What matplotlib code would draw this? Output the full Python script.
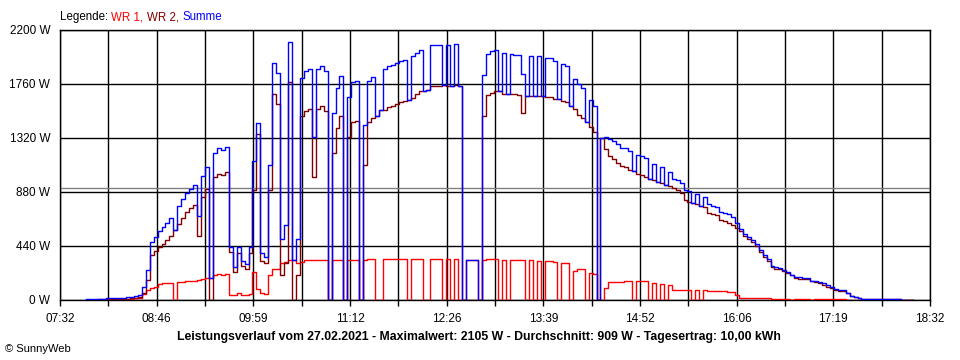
import numpy as np
import matplotlib
matplotlib.use("Agg")
import matplotlib.pyplot as plt

plt.rcParams['font.family'] = ['Liberation Sans', 'DejaVu Sans']

# ---- data (3-minute samples starting 07:52) ----
start_min = 7 * 60 + 52
step_min = 3

wr1 = [
    2, 3, 3, 4, 4, 5, 5, 6, 6, 8,
    10, 12, 15, 20, 50, 85, 100, 110, 130, 135,
    138, 140, 0, 145, 150, 152, 155, 158, 165, 170,
    180, 180, 200, 210, 200, 210, 40, 40, 55, 40,
    40, 50, 230, 90, 60, 50, 200, 250, 250, 300,
    310, 325, 325, 300, 310, 325, 325, 325, 325, 325,
    325, 0, 325, 325, 325, 0, 325, 325, 325, 0,
    330, 335, 335, 0, 0, 335, 335, 335, 335, 335,
    335, 0, 335, 335, 335, 0, 0, 335, 335, 335,
    0, 335, 0, 335, 0, 0, 330, 330, 330, 0,
    330, 335, 335, 335, 0, 330, 0, 325, 325, 325,
    325, 0, 325, 0, 320, 0, 315, 315, 310, 0,
    300, 300, 0, 240, 250, 250, 0, 220, 210, 0,
    0, 100, 145, 145, 148, 150, 155, 155, 0, 155,
    155, 155, 0, 135, 0, 130, 0, 120, 80, 80,
    80, 85, 85, 0, 85, 0, 80, 75, 70, 70,
    70, 70, 68, 65, 40, 20, 15, 15, 15, 15,
    15, 15, 15, 10, 10, 10, 10, 10, 0, 10,
    10, 10, 10, 0, 10, 10, 10, 10, 10, 10,
    10, 10, 0, 0, 0, 0, 0, 0, 0, 0,
    0, 0, 0, 0, 0, 0, 0, 0, 0, 0,
]

wr2 = [
    3, 3, 4, 5, 6, 8, 8, 10, 10, 12,
    12, 15, 18, 22, 60, 160, 370, 400, 430, 460,
    490, 525, 570, 620, 670, 720, 750, 775, 520, 840,
    905, 0, 1000, 1030, 1020, 1040, 390, 230, 380, 280,
    250, 380, 900, 1350, 320, 300, 900, 1680, 1600, 200,
    300, 1780, 0, 200, 1500, 1540, 1560, 1000, 1560, 1580,
    1540, 0, 1200, 1400, 1500, 0, 1330, 1450, 1460, 0,
    1100, 1450, 1480, 1500, 1550, 1550, 1570, 1580, 1600, 1610,
    1620, 1630, 1650, 1680, 1700, 1700, 1710, 1740, 1745, 1745,
    1750, 1740, 1745, 1750, 1745, 0, 0, 0, 0, 0,
    1500, 1670, 1690, 1700, 1700, 1680, 1680, 1680, 1675, 1670,
    1520, 1660, 1665, 1665, 1665, 1660, 1655, 1655, 1640, 1635,
    1625, 1610, 1580, 1560, 1510, 1480, 1450, 1410, 1370, 0,
    1320, 1230, 1170, 1150, 1120, 1090, 1080, 1060, 1050, 1030,
    1020, 1000, 985, 975, 965, 950, 935, 925, 910, 900,
    870, 815, 800, 790, 780, 770, 760, 710, 700, 690,
    650, 640, 630, 610, 590, 560, 520, 500, 470, 440,
    390, 350, 320, 265, 255, 250, 235, 220, 200, 180,
    175, 170, 168, 155, 145, 140, 125, 110, 95, 80,
    75, 70, 60, 35, 25, 15, 8, 6, 5, 5,
    5, 5, 5, 5, 5, 5, 4, 4, 3, 3,
]

summe = [a + b for a, b in zip(wr1, wr2)]

avg_w = 909
y_ticks = [0, 440, 880, 1320, 1760, 2200]
x_labels = ["07:32", "08:46", "09:59", "11:12", "12:26", "13:39",
            "14:52", "16:06", "17:19", "18:32"]
x_start, x_end = 7 * 60 + 32, 18 * 60 + 32
title = ("Leistungsverlauf vom 27.02.2021 - Maximalwert: 2105 W - "
         "Durchschnitt: 909 W - Tagesertrag: 10,00 kWh")
legend_parts = [("Legende: ", "#000000"), ("WR 1, ", "#FF0000"),
                ("WR 2, ", "#800000"), ("Summe", "#0000FF")]

t = start_min + step_min * np.arange(len(wr1))

W, H = 960, 360
fig = plt.figure(figsize=(W / 100, H / 100), dpi=100)
ax = fig.add_axes([60 / W, 60 / H, 870 / W, 270 / H])
ax.set_xlim(x_start, x_end)
ax.set_ylim(0, 2200)

vgrid = np.linspace(x_start, x_end, 19)
for xv in vgrid:
    ax.axvline(xv, color='black', lw=1.0, zorder=1)
for yv in y_ticks:
    ax.axhline(yv, color='black', lw=1.0, zorder=1)
ax.axhline(avg_w, color='#808080', lw=1.0, zorder=1)

ax.step(t, wr1, where='post', color='#FF0000', lw=1.0, zorder=3)
ax.step(t, wr2, where='post', color='#800000', lw=1.0, zorder=4)
ax.step(t, summe, where='post', color='#0000FF', lw=1.0, zorder=5)

ax.set_xticks(vgrid)
labels = []
for i in range(len(vgrid)):
    labels.append(x_labels[i // 2] if i % 2 == 0 else "")
ax.set_xticklabels(labels)
ax.set_yticks(y_ticks)
ax.set_yticklabels([f"{v} W" for v in y_ticks])
ax.tick_params(axis='x', length=4, width=1.0, direction='out', pad=5,
               labelsize=8.5, colors='black')
ax.tick_params(axis='y', length=0, pad=7, labelsize=8.5)
for s in ax.spines.values():
    s.set_color('black')
    s.set_linewidth(1.0)

fig.text(479 / W, 1 - 337 / H, title, ha='center', va='center',
         fontweight='bold', fontsize=8.8)
fig.text(5 / W, 1 - 349 / H, "\u00a9 SunnyWeb", ha='left', va='center',
         fontsize=8)

renderer = fig.canvas.get_renderer()
bar = fig.text(0, 0, "|", fontsize=8.3)
wbar = bar.get_window_extent(renderer).width
bar.remove()
xpos = 60
for txt, col in legend_parts:
    tt = fig.text(xpos / W, 1 - 17 / H, txt, color=col, fontsize=8.3,
                  ha='left', va='center')
    probe = fig.text(0, 0, txt + "|", fontsize=8.3)
    w = probe.get_window_extent(renderer).width - wbar
    probe.remove()
    xpos += w

fig.savefig("out.png", dpi=100)
